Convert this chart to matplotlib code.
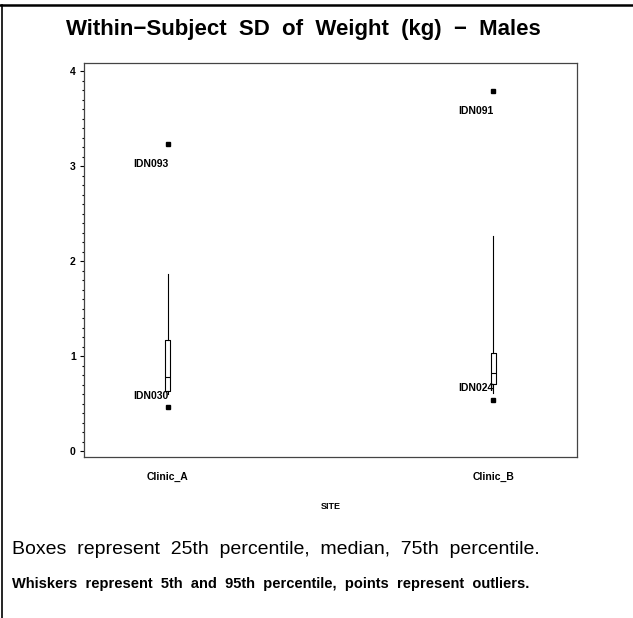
import matplotlib
matplotlib.use("Agg")
import matplotlib.pyplot as plt
from matplotlib.lines import Line2D
from matplotlib.ticker import MultipleLocator

# ---- data ----
sites = ["Clinic_A", "Clinic_B"]
p5 = [0.60, 0.61]
q1 = [0.63, 0.71]
med = [0.78, 0.82]
q3 = [1.17, 1.03]
p95 = [1.86, 2.26]
outlier_vals = [[3.23, 0.46], [3.79, 0.54]]
outlier_ids = [["IDN093", "IDN030"], ["IDN091", "IDN024"]]

title = "Within\u2212Subject  SD  of  Weight  (kg)  \u2212  Males"
foot1 = "Boxes  represent  25th  percentile,  median,  75th  percentile."
foot2 = "Whiskers  represent  5th  and  95th  percentile,  points  represent  outliers."

plt.rcParams["font.family"] = ["Liberation Sans", "DejaVu Sans"]

fig = plt.figure(figsize=(6.33, 6.18), dpi=100)
ax = fig.add_axes([0.1327, 0.2605, 0.7788, 0.6375])

stats = []
for i, s in enumerate(sites):
    stats.append(dict(label=s, whislo=p5[i], q1=q1[i], med=med[i], q3=q3[i],
                      whishi=p95[i], fliers=[]))
pos = [1, 2]
ax.bxp(stats, positions=pos, widths=0.016, showcaps=False, showfliers=False,
       boxprops=dict(color="black", linewidth=0.8),
       whiskerprops=dict(color="black", linewidth=0.8),
       medianprops=dict(color="black", linewidth=0.8))

for i in range(len(sites)):
    for v, lab in zip(outlier_vals[i], outlier_ids[i]):
        ax.plot(pos[i], v, marker="s", ms=2.8, color="black", ls="none")
        dy = -14.5 if v > p95[i] else 8.5
        ax.annotate(lab, (pos[i], v), xytext=(0.5, dy), textcoords="offset points",
                    ha="right", va="center", fontsize=7.5, fontweight="bold")

ax.set_xlim(0.7424, 2.2576)
ax.set_ylim(-0.063, 4.084)
ax.set_xticks(pos)
ax.set_xticklabels(sites, fontsize=7.5, fontweight="bold")
ax.tick_params(axis="x", length=0, pad=11)
ax.yaxis.set_minor_locator(MultipleLocator(0.1))
ax.set_yticks([0, 1, 2, 3, 4])
ax.set_yticklabels(["0", "1", "2", "3", "4"], fontsize=7.5, fontweight="bold")
ax.tick_params(axis="y", which="major", length=3, width=0.8, pad=3)
ax.tick_params(axis="y", which="minor", length=1.2, width=0.8)
ax.set_xlabel("SITE", fontsize=6.5, fontweight="bold", labelpad=14)
for sp in ax.spines.values():
    sp.set_color("#444444")
    sp.set_linewidth(0.9)

fig.text(0.480, 1 - 29 / 618, title, ha="center", va="center",
         fontsize=16, fontweight="bold")
fig.text(12 / 633, 1 - 550 / 618, foot1, ha="left", va="center", fontsize=14)
fig.text(12 / 633, 1 - 584 / 618, foot2, ha="left", va="center", fontsize=10.5,
         fontweight="bold")

# page border (top and left)
fig.add_artist(Line2D([0, 1], [1 - 5 / 618] * 2, color="black", lw=1.8))
fig.add_artist(Line2D([1.5 / 633] * 2, [0, 1 - 5 / 618], color="black", lw=1.2))

fig.savefig("out.png", dpi=100, facecolor="white")
